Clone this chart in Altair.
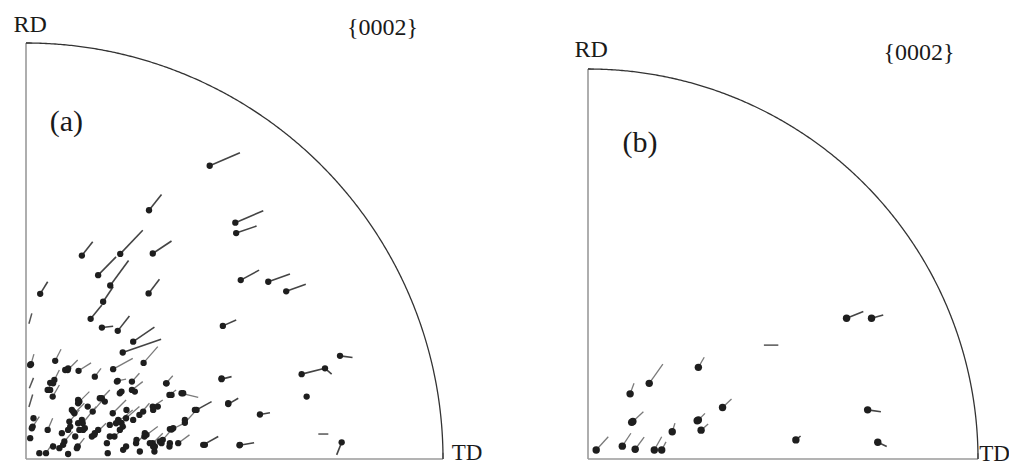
import altair as alt
import pandas as pd

# ---------------- Panel (a) : pole positions (radius = 100) ----------------
# arrows: dot (x, y) and tail end (tx, ty)
A_X  = [44.05, 29.5, 50.2, 50.4, 13.4, 22.6, 30.4, 17.3, 20.2, 3.4, 29.4, 18.5, 15.5, 51.5, 58.1, 62.4,
        47.2, 18.2, 22.0, 25.7, 23.2, 28.2, 7.0, 1.2, 10.0, 12.6, 16.5, 20.9, 22.0, 25.4, 6.8, 5.2,
        6.4, 25.4, 33.6, 34.4, 12.8, 11.6, 16.0, 13.6, 10.4, 16.4, 9.2, 12.4, 1.6, 5.2, 20.8, 21.6,
        24.0, 27.2, 30.4, 21.2, 26.4, 28.4, 30.4, 32.8, 4.8, 46.9, 37.3, 48.5, 40.9, 38.1, 34.9, 56.1,
        66.1, 71.7, 75.3, 75.7, 51.2, 42.5, 36.5, 18.2]
A_Y  = [70.5, 59.8, 56.8, 54.3, 48.9, 49.3, 49.4, 44.2, 41.7, 39.7, 39.8, 37.8, 33.7, 43.0, 42.6, 40.3,
        32.0, 31.6, 30.8, 28.2, 25.6, 23.1, 23.6, 22.8, 21.4, 21.2, 19.8, 21.6, 18.8, 18.6, 19.0, 16.6,
        15.0, 16.6, 18.2, 15.4, 13.8, 11.0, 11.4, 8.6, 9.0, 5.8, 4.2, 3.0, 7.8, 7.0, 11.0, 8.6,
        9.8, 10.6, 12.6, 5.4, 3.8, 5.4, 3.8, 4.6, 1.4, 19.2, 15.8, 13.2, 11.8, 8.7, 7.1, 10.7,
        20.4, 21.8, 24.8, 4.0, 3.3, 3.4, 3.8, 14.6]
A_TX = [51.3, 32.5, 56.9, 55.3, 16.0, 28.0, 34.9, 21.6, 24.6, 5.2, 32.0, 20.9, 18.2, 55.9, 63.3, 67.1,
        50.4, 20.9, 24.8, 30.8, 32.4, 31.6, 8.4, 1.9, 12.4, 15.6, 18.0, 25.6, 24.0, 27.2, 8.0, 6.0,
        8.0, 28.0, 35.2, 36.0, 15.2, 14.0, 18.4, 16.8, 12.8, 19.2, 11.2, 14.0, 3.2, 6.4, 24.0, 25.6,
        27.2, 29.6, 32.8, 24.0, 28.8, 31.6, 32.8, 35.2, 6.4, 49.3, 41.3, 50.9, 44.5, 40.9, 38.1, 58.5,
        71.7, 73.3, 78.3, 74.5, 54.7, 46.1, 39.2, 20.1]
A_TY = [73.6, 63.6, 59.7, 56.0, 52.2, 55.0, 52.4, 48.6, 47.7, 42.6, 43.2, 41.4, 37.0, 45.4, 44.5, 42.0,
        33.4, 31.9, 34.4, 31.7, 28.8, 27.0, 26.4, 25.2, 23.8, 23.1, 21.8, 24.2, 19.2, 20.6, 21.4, 18.2,
        17.8, 18.6, 20.0, 16.6, 16.2, 13.4, 14.2, 12.6, 11.8, 8.6, 6.6, 5.0, 10.2, 9.8, 14.2, 11.8,
        12.6, 13.4, 14.2, 7.8, 6.2, 7.8, 6.2, 7.4, 3.8, 19.8, 14.8, 14.6, 13.8, 11.8, 8.7, 11.1,
        21.8, 20.4, 24.4, 1.0, 3.9, 5.4, 5.8, 16.6]
# dots without visible tails (dense cluster near the centre)
A_DX = [67.3, 5.8, 12.5, 11.0, 22.5, 28.1, 22.9, 20.1, 16.5, 13.7, 12.5, 10.1, 8.6, 12.2, 19.4, 23.3,
        28.9, 30.5, 32.5, 34.5, 10.1, 27.3, 3.2, 8.0, 1.0, 14.8, 23.2, 31.6, 24.0, 30.8, 34.4, 19.6,
        12.8, 34.5, 1.0, 9.4,
        12.5, 11.3, 13.4, 14.1, 10.6, 11.8, 15.8, 17.3, 22.1, 22.5, 20.1, 24.1, 25.7, 26.5, 28.5, 29.7,
        30.9, 32.1, 30.5, 17.7, 18.9, 8.9, 6.5, 1.4, 1.8, 6.5, 10.1, 5.8, 21.8, 22.9, 26.1, 33.7,
        34.9, 37.7, 40.5, 38.1, 35.3, 42.9, 48.5, 46.9, 51.3]
A_DY = [15.0, 18.3, 13.4, 11.8, 15.8, 11.4, 8.7, 8.2, 6.2, 7.0, 8.6, 7.0, 6.2, 2.6, 3.8, 2.2,
        5.8, 3.0, 3.8, 3.8, 1.2, 1.8, 1.4, 2.6, 5.0, 12.6, 7.8, 12.6, 3.0, 1.8, 3.0, 1.4,
        7.0, 7.2, 22.6, 21.4,
        14.2, 11.4, 9.4, 7.4, 7.8, 5.4, 5.4, 7.0, 9.4, 7.0, 5.4, 11.8, 9.4, 4.6, 6.2, 3.8,
        3.0, 4.2, 11.8, 14.6, 13.8, 3.4, 3.0, 7.4, 9.8, 18.2, 21.8, 16.6, 18.6, 16.2, 16.2, 18.2,
        15.4, 15.8, 11.8, 9.4, 7.4, 3.4, 13.4, 19.4, 3.4]
# strokes without a dot
A_SX  = [70.1, 0.7, 0.8, 0.7]
A_SY  = [6.0, 12.5, 17.0, 32.5]
A_SX2 = [72.5, 1.6, 1.8, 1.4]
A_SY2 = [6.0, 15.5, 19.5, 35.0]

# ---------------- Panel (b) ----------------
B_X  = [66.3, 72.7, 28.3, 15.7, 10.8, 34.5, 11.5, 28.3, 29.0, 21.6, 71.7, 53.3, 74.3, 2.1, 8.8, 12.1, 17.0, 18.9]
B_Y  = [36.1, 36.1, 23.5, 19.4, 16.7, 13.2, 9.6, 10.0, 7.4, 7.0, 12.6, 4.9, 4.3, 2.3, 3.3, 2.5, 2.3, 2.3]
B_TX = [70.6, 75.7, 29.8, 19.2, 11.8, 36.8, 14.2, 30.0, 30.8, 22.3, 75.1, 54.5, 76.6, 5.2, 11.0, 14.4, 18.9, 20.0]
B_TY = [37.8, 36.9, 26.1, 24.3, 19.4, 15.4, 12.1, 11.7, 9.0, 9.2, 12.1, 5.9, 3.2, 5.7, 6.6, 5.6, 5.7, 4.4]
# the two larger blobs
B_DX = [11.2, 28.0]
B_DY = [9.4, 9.8]
B_SX  = [45.1]
B_SY  = [29.2]
B_SX2 = [48.8]
B_SY2 = [29.2]

TITLE = "{0002}"
LABELS_A = ["RD", TITLE, "(a)", "TD"]
LABELS_B = ["RD", TITLE, "(b)", "TD"]

FONT = "Liberation Serif"


def panel(ax, ay, atx, aty, dx, dy, sx, sy, sx2, sy2, labels, lab_pos, width, height, ymax, dot_size):
    xs = alt.Scale(domain=[0, 100], nice=False, zero=False)
    ys = alt.Scale(domain=[0, ymax], nice=False, zero=False)
    arrows = pd.DataFrame({"x": ax, "y": ay, "x2": atx, "y2": aty})
    strokes = pd.DataFrame({"x": sx, "y": sy, "x2": sx2, "y2": sy2})
    dots = pd.DataFrame({"x": list(ax) + list(dx), "y": list(ay) + list(dy)})
    edges = pd.DataFrame({"x": [0, 0, 0, 100], "y": [0, 0, 100, 0],
                          "x2": [0, 100, 1.5, 100], "y2": [100, 0, 100, 1.5]})
    texts = pd.DataFrame({"t": labels, "x": [p[0] for p in lab_pos], "y": [p[1] for p in lab_pos],
                          "k": ["c", "c", "p", "l"]})

    X = lambda f: alt.X(f, type="quantitative", scale=xs, axis=None)
    Y = lambda f: alt.Y(f, type="quantitative", scale=ys, axis=None)

    edge = alt.Chart(edges).mark_rule(color="#9a9a9a", strokeWidth=1.6).encode(
        x=X("x"), y=Y("y"), x2="x2", y2="y2")
    arc = alt.Chart(alt.sequence(0, 90.25, 0.25, as_="t")).transform_calculate(
        px="100*cos(datum.t*PI/180)", py="100*sin(datum.t*PI/180)"
    ).mark_line(color="#333333", strokeWidth=1.3).encode(
        x=X("px"), y=Y("py"), order="t:Q")
    # outer (isolated) tails are darker, tails inside the dense cluster are lighter
    tails_dark = alt.Chart(arrows).transform_filter("datum.y >= 24 || datum.x >= 40").mark_rule(
        color="#444444", strokeWidth=1.6).encode(x=X("x"), y=Y("y"), x2="x2", y2="y2")
    tails_light = alt.Chart(arrows).transform_filter("datum.y < 24 && datum.x < 40").mark_rule(
        color="#7a7a7a", strokeWidth=1.3).encode(x=X("x"), y=Y("y"), x2="x2", y2="y2")
    strk = alt.Chart(strokes).mark_rule(color="#555555", strokeWidth=1.5).encode(
        x=X("x"), y=Y("y"), x2="x2", y2="y2")
    pts = alt.Chart(dots).mark_circle(color="#1e1e1e", opacity=1, size=dot_size).encode(
        x=X("x"), y=Y("y"))
    txt_c = alt.Chart(texts).transform_filter("datum.k == 'c'").mark_text(
        font=FONT, fontSize=24, color="#1a1a1a", align="center", baseline="alphabetic").encode(
        x=X("x"), y=Y("y"), text="t:N")
    txt_p = alt.Chart(texts).transform_filter("datum.k == 'p'").mark_text(
        font=FONT, fontSize=30, color="#1a1a1a", align="center", baseline="alphabetic").encode(
        x=X("x"), y=Y("y"), text="t:N")
    txt_l = alt.Chart(texts).transform_filter("datum.k == 'l'").mark_text(
        font=FONT, fontSize=23, color="#1a1a1a", align="left", baseline="alphabetic").encode(
        x=X("x"), y=Y("y"), text="t:N")
    return alt.layer(edge, arc, tails_light, tails_dark, strk, pts, txt_c, txt_p, txt_l).properties(
        width=width, height=height)


pa = panel(A_X, A_Y, A_TX, A_TY, A_DX, A_DY, A_SX, A_SY, A_SX2, A_SY2, LABELS_A,
           [(1.0, 102.6), (85.5, 101.9), (9.7, 78.8), (102.1, -0.2)],
           417, 416, 100, 40)
pb = panel(B_X, B_Y, B_TX, B_TY, B_DX, B_DY, B_SX, B_SY, B_SX2, B_SY2, LABELS_B,
           [(0.8, 103.1), (84.9, 102.3), (13.3, 78.7), (100.3, -0.5)],
           390, 416, 106.67, 55)

chart = alt.hconcat(pa, pb, spacing=145, bounds="flush").properties(
    autosize=alt.AutoSizeParams(type="none"),
    padding={"left": 18, "top": 35, "right": 983, "bottom": 414},
).configure_view(stroke=None)

chart.save("out.html", embed_options={"renderer": "svg", "actions": False})
